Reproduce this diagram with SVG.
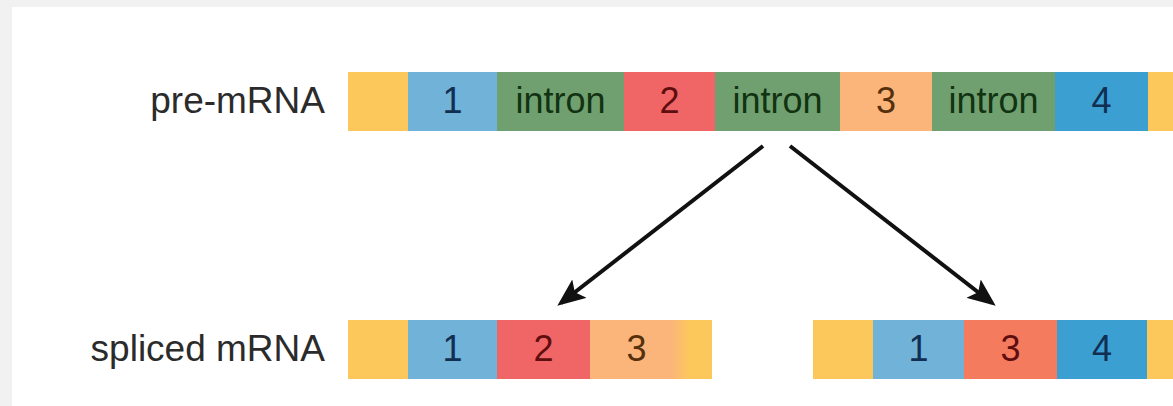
<svg xmlns="http://www.w3.org/2000/svg" width="1173" height="406" viewBox="0 0 1173 406">
  <style>
    .label { font-family: "Liberation Sans", Arial, sans-serif; font-size: 37px; fill: #2b2b2b; text-anchor: end; }
    .seg-text { font-family: "Liberation Sans", Arial, sans-serif; font-size: 36px; text-anchor: middle; }
    .utr { fill: #fcc85c; }
    .ex1 { fill: #70b2d8; }
    .ex2 { fill: #f06565; }
    .ex3 { fill: #fbb47a; }
    .ex3s { fill: #f47b5e; }
    .ex4 { fill: #3c9fd1; }
    .intron { fill: #70a070; }
    .t-blue { fill: #102f52; }
    .t-red { fill: #5e0e0e; }
    .t-orange { fill: #55300c; }
    .t-green { fill: #113311; }
    .conn { stroke: #111111; stroke-width: 4; fill: none; marker-end: url(#arrow); }
  </style>
  <defs>
    <marker id="arrow" viewBox="0 0 12 10" refX="10" refY="5" markerWidth="7" markerHeight="6" markerUnits="strokeWidth" orient="auto">
      <path d="M0,0 L12,5 L0,10 L2.5,5 Z" fill="#111111"/>
    </marker>
    <linearGradient id="fade3" x1="0" y1="0" x2="1" y2="0">
      <stop offset="0" stop-color="#fbb47a"/>
      <stop offset="1" stop-color="#fcc85c"/>
    </linearGradient>
  </defs>

  <!-- page background with grey frame -->
  <rect x="0" y="0" width="1173" height="406" fill="#f1f1f1"/>
  <rect x="12" y="7" width="1161" height="399" fill="#ffffff"/>

  <!-- pre-mRNA -->
  <g id="pre-mrna">
    <text class="label" x="325" y="113">pre-mRNA</text>
    <rect class="utr" x="348" y="72" width="60" height="59"/>
    <rect class="ex1" x="408" y="72" width="89" height="59"/>
    <rect class="intron" x="497" y="72" width="127" height="59"/>
    <rect class="ex2" x="624" y="72" width="91" height="59"/>
    <rect class="intron" x="715" y="72" width="125" height="59"/>
    <rect class="ex3" x="840" y="72" width="92" height="59"/>
    <rect class="intron" x="932" y="72" width="123" height="59"/>
    <rect class="ex4" x="1055" y="72" width="93" height="59"/>
    <rect class="utr" x="1148" y="72" width="25" height="59"/>
    <text class="seg-text t-blue" x="452.5" y="113">1</text>
    <text class="seg-text t-green" x="560.5" y="113">intron</text>
    <text class="seg-text t-red" x="669.5" y="113">2</text>
    <text class="seg-text t-green" x="777.5" y="113">intron</text>
    <text class="seg-text t-orange" x="886" y="113">3</text>
    <text class="seg-text t-green" x="993.5" y="113">intron</text>
    <text class="seg-text t-blue" x="1101.5" y="113">4</text>
  </g>

  <!-- spliced mRNA, exons 1-2-3 -->
  <g id="spliced-a">
    <text class="label" x="325" y="361">spliced mRNA</text>
    <rect class="utr" x="348" y="320" width="60" height="59"/>
    <rect class="ex1" x="408" y="320" width="89" height="59"/>
    <rect class="ex2" x="497" y="320" width="93" height="59"/>
    <rect class="ex3" x="590" y="320" width="80" height="59"/>
    <rect x="670" y="320" width="20" height="59" fill="url(#fade3)"/>
    <rect class="utr" x="690" y="320" width="22" height="59"/>
    <text class="seg-text t-blue" x="452.5" y="361">1</text>
    <text class="seg-text t-red" x="543.5" y="361">2</text>
    <text class="seg-text t-orange" x="636.5" y="361">3</text>
  </g>

  <!-- spliced mRNA, exons 1-3-4 -->
  <g id="spliced-b">
    <rect class="utr" x="813" y="320" width="60" height="59"/>
    <rect class="ex1" x="873" y="320" width="91" height="59"/>
    <rect class="ex3s" x="964" y="320" width="93" height="59"/>
    <rect class="ex4" x="1057" y="320" width="90" height="59"/>
    <rect class="utr" x="1147" y="320" width="26" height="59"/>
    <text class="seg-text t-blue" x="918.5" y="361">1</text>
    <text class="seg-text t-red" x="1010.5" y="361">3</text>
    <text class="seg-text t-blue" x="1102" y="361">4</text>
  </g>

  <!-- splicing arrows -->
  <g id="connectors">
    <line class="conn" x1="763" y1="146" x2="561" y2="303"/>
    <line class="conn" x1="790" y1="146" x2="992" y2="303"/>
  </g>
</svg>
